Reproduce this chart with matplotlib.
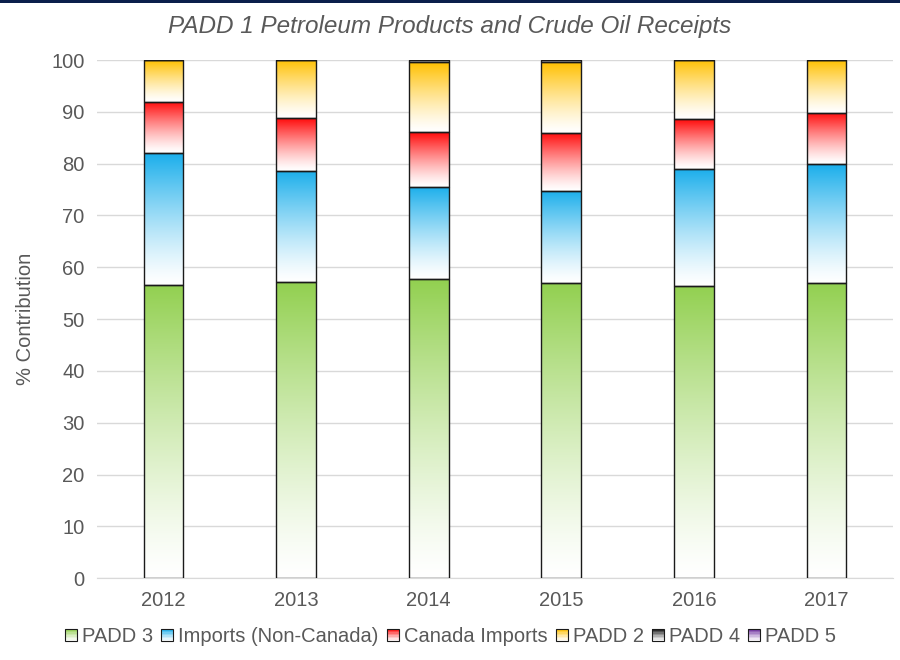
"""
PADD 1 petroleum products and crude oil receipts — stacked % contribution
with gradient-filled bars (colour at top fading to white at the bottom).
"""

import matplotlib.pyplot as plt
import numpy as np
from matplotlib.colors import to_rgba
from matplotlib.legend_handler import HandlerBase
from matplotlib.patches import Rectangle

plt.rcParams["font.family"] = ["Liberation Sans", "DejaVu Sans"]

years = ["2012", "2013", "2014", "2015", "2016", "2017"]
series = ["PADD 3", "Imports (Non-Canada)", "Canada Imports", "PADD 2", "PADD 4", "PADD 5"]
padd3 = [56.6, 57.1, 57.7, 56.9, 56.4, 57.0]
imports_non_canada = [25.4, 21.5, 17.8, 17.8, 22.6, 22.9]
canada_imports = [9.9, 10.2, 10.6, 11.2, 9.6, 9.9]
padd2 = [8.1, 11.2, 13.5, 13.7, 11.4, 10.2]
padd4 = [0.0, 0.0, 0.4, 0.4, 0.0, 0.0]
padd5 = [0.0, 0.0, 0.0, 0.0, 0.0, 0.0]

values = [padd3, imports_non_canada, canada_imports, padd2, padd4, padd5]
colors = ["#92D050", "#1AAEEB", "#FF0A0A", "#FFC000", "#1a1a1a", "#7030A0"]

GRAY = "#595959"
GRID = "#D9D9D9"


def gradient(color, n=256):
    rgb = np.array(to_rgba(color)[:3])
    t = np.linspace(0, 1, n)[:, None]
    t = t ** 1.3
    arr = (1 - t) * np.ones(3) + t * rgb
    return arr[:, None, :]


class GradientHandler(HandlerBase):
    def create_artists(self, legend, orig_handle, xdescent, ydescent,
                       width, height, fontsize, trans):
        color = orig_handle.get_facecolor()
        size = height * 0.85
        x0 = -xdescent + (width - size) / 2
        y0 = -ydescent + (height - size) / 2
        artists = []
        n = 8
        for i in range(n):
            t = ((i + 0.5) / n) ** 1.3
            c = (1 - t) * np.ones(3) + t * np.array(color[:3])
            artists.append(Rectangle((x0, y0 + i * size / n), size, size / n,
                                     facecolor=c, edgecolor="none", transform=trans))
        artists.append(Rectangle((x0, y0), size, size, facecolor="none",
                                 edgecolor="#1a1a1a", linewidth=0.8, transform=trans))
        return artists


fig = plt.figure(figsize=(9, 6.6), dpi=100)
ax = fig.add_axes([0.108, 0.124, 0.884, 0.785])

x = np.arange(len(years))
width = 0.30
bottom = np.zeros(len(years))
for vals, color in zip(values, colors):
    vals = np.array(vals)
    for xi, b, v in zip(x, bottom, vals):
        if v <= 0:
            continue
        ax.imshow(gradient(color), extent=(xi - width / 2, xi + width / 2, b, b + v),
                  origin="lower", aspect="auto", interpolation="bilinear", zorder=2)
    ax.bar(x, vals, width, bottom=bottom, facecolor="none",
           edgecolor="#1a1a1a", linewidth=1.0, zorder=3)
    bottom += vals

ax.set_xlim(-0.5, len(years) - 0.5)
ax.set_ylim(0, 100)
ax.set_yticks(range(0, 101, 10))
ax.set_xticks(x)
ax.set_xticklabels(years)
ax.tick_params(axis="both", length=0, labelsize=14.5, labelcolor=GRAY, pad=9)
ax.yaxis.grid(True, color=GRID, linewidth=1.0, zorder=0)
ax.set_axisbelow(True)
for side in ["top", "right", "left"]:
    ax.spines[side].set_visible(False)
ax.spines["bottom"].set_color(GRID)
ax.set_ylabel("% Contribution", fontsize=14.5, color=GRAY, labelpad=12)

fig.text(0.5, 0.960, "PADD 1 Petroleum Products and Crude Oil Receipts",
         ha="center", va="center", fontsize=17.5, style="italic", color=GRAY)

handles = [Rectangle((0, 0), 1, 1, facecolor=c) for c in colors]
fig.legend(handles, series, loc="center", bbox_to_anchor=(0.5, 0.035), ncol=6,
           frameon=False, fontsize=14.5, labelcolor=GRAY, handlelength=0.7,
           handletextpad=0.2, columnspacing=0.35,
           handler_map={Rectangle: GradientHandler()})

# dark band along the top edge
fig.add_artist(Rectangle((0, 0.995), 1, 0.005, transform=fig.transFigure,
                         facecolor="#0B1F4B", edgecolor="none"))

fig.savefig("out.png", dpi=100, facecolor="white")
